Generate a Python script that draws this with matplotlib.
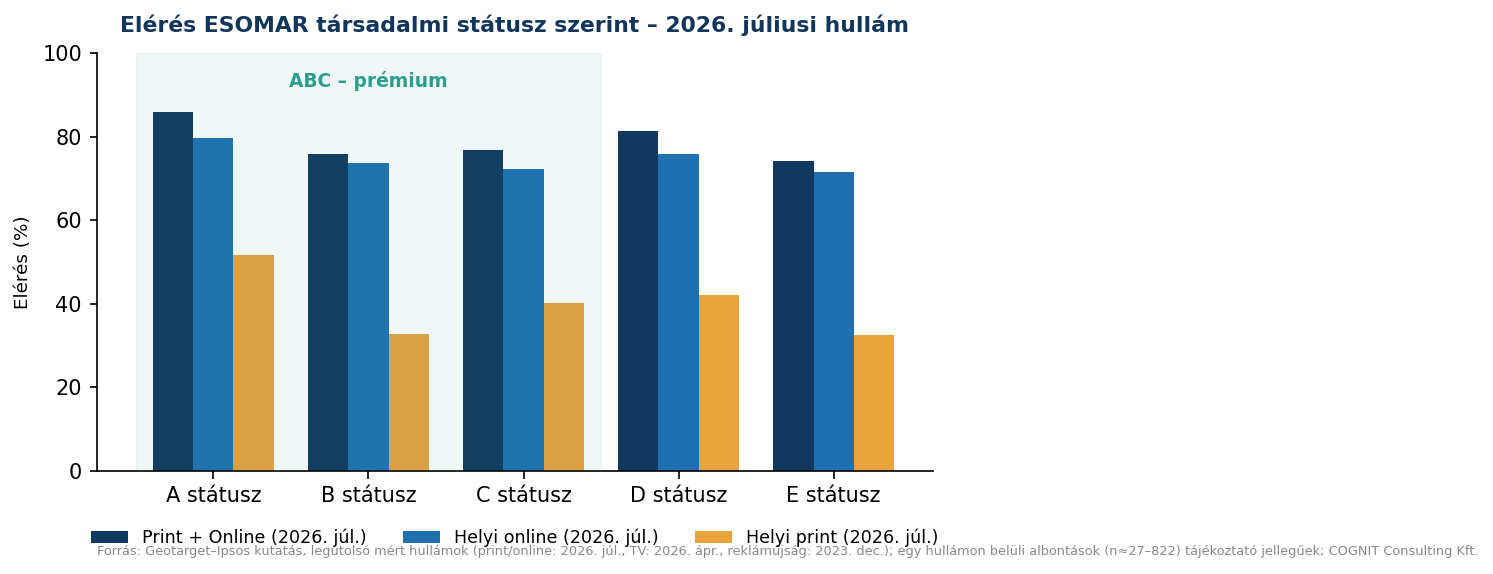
import numpy as np
import matplotlib.pyplot as plt

categories = ["A státusz", "B státusz", "C státusz", "D státusz", "E státusz"]
series_names = [
    "Print + Online (2026. júl.)",
    "Helyi online (2026. júl.)",
    "Helyi print (2026. júl.)",
]
print_online = [85.9, 75.8, 76.8, 81.3, 74.2]
helyi_online = [79.7, 73.7, 72.2, 75.8, 71.5]
helyi_print = [51.7, 32.8, 40.2, 42.1, 32.5]

COLORS = ["#11385E", "#1F70B1", "#E8A33D"]
TEAL = "#2A9D8F"

W, H = 1493, 574
fig = plt.figure(figsize=(W / 120, H / 120), dpi=120)
ax = fig.add_axes([97 / W, 1 - 471 / H, (933 - 97) / W, (471 - 53) / H])

x = np.arange(len(categories))
width = 0.26
for i, (vals, name, col) in enumerate(zip([print_online, helyi_online, helyi_print], series_names, COLORS)):
    ax.bar(x + (i - 1) * width, vals, width, color=col, label=name, zorder=2)

# premium band drawn over the bars with light teal tint
ax.axvspan(-0.5, 2.5, color=TEAL, alpha=0.07, zorder=3, linewidth=0.8)
ax.text(1.0, 93.3, "ABC – prémium", ha="center", va="center",
        fontsize=11.2, fontweight="bold", color=TEAL, zorder=4)

ax.set_xlim(-0.75, 4.64)
ax.set_ylim(0, 100)
ax.set_xticks(x)
ax.set_xticklabels(categories, fontsize=12.5)
ax.tick_params(axis="y", labelsize=12.5)
ax.tick_params(length=4.5, width=1.0, pad=4.5)
ax.set_ylabel("Elérés (%)", fontsize=11, labelpad=6)
for s in ("top", "right"):
    ax.spines[s].set_visible(False)
for s in ("left", "bottom"):
    ax.spines[s].set_linewidth(1.0)

fig.text(120 / W, 1 - 25 / H, "Elérés ESOMAR társadalmi státusz szerint – 2026. júliusi hullám",
         fontsize=13.15, fontweight="bold", color="#12355B", va="center", ha="left")

fig.legend(loc="center left", bbox_to_anchor=(75 / W, 1 - 538 / H), ncols=3,
           frameon=False, fontsize=10.5, handlelength=2.1, columnspacing=2.1)

fig.text(97 / W, 1 - 551 / H,
         "Forrás: Geotarget–Ipsos kutatás, legutolsó mért hullámok (print/online: 2026. júl., TV: 2026. ápr., "
         "reklámújság: 2023. dec.); egy hullámon belüli albontások (n≈27–822) tájékoztató jellegűek; COGNIT Consulting Kft.",
         fontsize=7.75, color="#888888", va="center", ha="left")

fig.savefig("out.png", dpi=120)
